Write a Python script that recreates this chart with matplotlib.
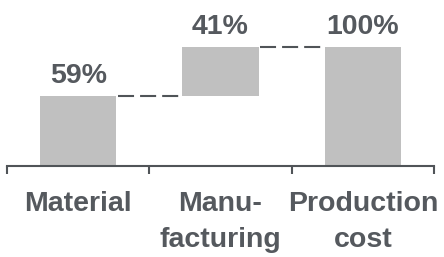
import numpy as np
import matplotlib
matplotlib.use('Agg')
import matplotlib.pyplot as plt
from matplotlib.transforms import blended_transform_factory

categories = ["Material", "Manu-\nfacturing", "Production\ncost"]
heights = [59, 41, 100]
bottoms = [0, 59, 0]
labels = ["59%", "41%", "100%"]

bar_col = "#c0c0c0"
txt_col = "#55595e"
ax_col = "#505458"

plt.rcParams['font.family'] = ['Liberation Sans', 'DejaVu Sans']
fig = plt.figure(figsize=(4.44, 2.57), dpi=100)
ax = fig.add_axes([7/444, 91/257, 427/444, 119.3/257])

x = np.arange(len(categories))
w = 0.537
ax.bar(x, heights, bottom=bottoms, width=w, color=bar_col, zorder=2)

# connectors between bars
tops = np.array(bottoms) + np.array(heights)
for i in range(len(x) - 1):
    ax.plot([x[i] + w/2 + 0.01, x[i+1] - w/2 - 0.01], [tops[i], tops[i]],
            color=ax_col, lw=1.5, dashes=(7.7, 2.9),
            dash_capstyle='butt', clip_on=False)

for xi, t, lab in zip(x, tops, labels):
    ax.annotate(lab, (xi, t), xytext=(0, 9.4), textcoords='offset points',
                ha='center', va='baseline', fontsize=20.5, fontweight='bold',
                color=txt_col, annotation_clip=False)

trans = blended_transform_factory(ax.transData, ax.transAxes)
for xi, c in zip(x, categories):
    ax.annotate(c, (xi, 0), xycoords=trans, xytext=(0, -18),
                textcoords='offset points', ha='center', va='top',
                fontsize=20.5, fontweight='bold', color=txt_col,
                linespacing=1.5, annotation_clip=False)

ax.set_xlim(-0.5, 2.5)
ax.set_ylim(0, 100)
for s in ['top', 'right', 'left']:
    ax.spines[s].set_visible(False)
ax.spines['bottom'].set_color(ax_col)
ax.spines['bottom'].set_linewidth(1.5)
ax.set_yticks([])
ax.set_xticks([-0.5, 0.5, 1.5, 2.5])
ax.set_xticklabels([])
ax.tick_params(axis='x', length=6, width=1.5, color=ax_col, direction='out')

fig.savefig("out.png", dpi=100)
